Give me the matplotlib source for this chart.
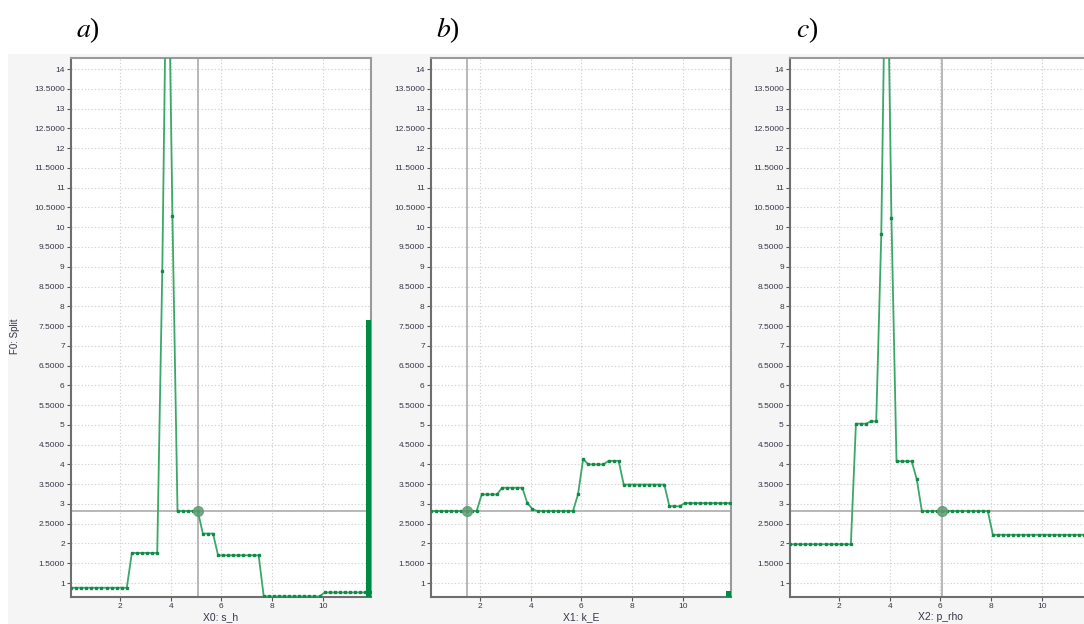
import matplotlib
matplotlib.use("Agg")
import matplotlib.pyplot as plt
from matplotlib.patches import Rectangle

# ---------------- data ----------------
x_grid = [0.07, 0.27, 0.47, 0.67, 0.87, 1.07, 1.27, 1.47, 1.67, 1.87,
          2.07, 2.27, 2.47, 2.67, 2.87, 3.07, 3.27, 3.47, 3.67, 3.87,
          4.07, 4.27, 4.47, 4.67, 4.87, 5.07, 5.27, 5.47, 5.67, 5.87,
          6.07, 6.27, 6.47, 6.67, 6.87, 7.07, 7.27, 7.47, 7.67, 7.87,
          8.07, 8.27, 8.47, 8.67, 8.87, 9.07, 9.27, 9.47, 9.67, 9.87,
          10.07, 10.27, 10.47, 10.67, 10.87, 11.07, 11.27, 11.47, 11.67, 11.87]

f_a = [0.88, 0.88, 0.88, 0.88, 0.88, 0.88, 0.88, 0.88, 0.88, 0.88,
       0.88, 0.88, 1.76, 1.76, 1.76, 1.76, 1.76, 1.76, 8.90, 19.0,
       10.29, 2.82, 2.82, 2.82, 2.82, 2.82, 2.25, 2.25, 2.25, 1.70,
       1.70, 1.70, 1.70, 1.70, 1.70, 1.70, 1.70, 1.70, 0.66, 0.66,
       0.66, 0.66, 0.66, 0.66, 0.66, 0.66, 0.66, 0.66, 0.66, 0.66,
       0.76, 0.76, 0.76, 0.76, 0.76, 0.76, 0.76, 0.76, 0.76, 0.76]

f_b = [2.82, 2.82, 2.82, 2.82, 2.82, 2.82, 2.82, 2.82, 2.82, 2.82,
       3.24, 3.24, 3.24, 3.24, 3.41, 3.41, 3.41, 3.41, 3.41, 3.02,
       2.87, 2.82, 2.82, 2.82, 2.82, 2.82, 2.82, 2.82, 2.82, 3.25,
       4.14, 4.00, 4.00, 4.00, 4.00, 4.09, 4.09, 4.09, 3.49, 3.49,
       3.49, 3.49, 3.49, 3.49, 3.49, 3.49, 3.49, 2.94, 2.94, 2.94,
       3.02, 3.02, 3.02, 3.02, 3.02, 3.02, 3.02, 3.02, 3.02, 3.02]

f_c = [1.98, 1.98, 1.98, 1.98, 1.98, 1.98, 1.98, 1.98, 1.98, 1.98,
       1.98, 1.98, 1.98, 5.03, 5.03, 5.03, 5.09, 5.09, 9.84, 19.0,
       10.24, 4.08, 4.08, 4.08, 4.08, 3.62, 2.82, 2.82, 2.82, 2.82,
       2.82, 2.82, 2.82, 2.82, 2.82, 2.82, 2.82, 2.82, 2.82, 2.82,
       2.22, 2.22, 2.22, 2.22, 2.22, 2.22, 2.22, 2.22, 2.22, 2.22,
       2.22, 2.22, 2.22, 2.22, 2.22, 2.22, 2.22, 2.22, 2.22, 2.22]

series = [f_a, f_b, f_c]
panel_titles = ["a", "b", "c"]
x_labels = ["X0: s_h", "X1: k_E", "X2: p_rho"]
y_label = "F0: Split"
current_x = [5.07, 1.47, 6.07]
current_f = 2.82
bar_x = 11.81
bar_heights = [7.65, 0.80, None]

y_ticks = [1 + 0.5 * k for k in range(27)]
y_tick_labels = [str(int(v)) if v == int(v) else f"{v:.4f}" for v in y_ticks]
x_ticks = [2, 4, 6, 8, 10]
x_tick_labels = ["2", "4", "6", "8", "10"]

# ---------------- figure ----------------
W, H = 1084, 624
fig = plt.figure(figsize=(W / 100, H / 100), dpi=100)
fig.patch.set_facecolor("white")
plt.rcParams["mathtext.fontset"] = "stix"

fig.add_artist(Rectangle((8 / W, 0), 1 - 8 / W, (H - 54) / H,
                         transform=fig.transFigure, facecolor="#f5f5f5",
                         edgecolor="none", zorder=-10))

ax_left_px = [71, 431, 790]
ax_w_px = 300
ax_top_px, ax_bot_px = 58, 597
ylim = (0.646, 14.28)
xlim = (0.07, 11.9)

line_col = "#3aa86a"
mark_col = "#138a48"
tick_font = dict(family="Liberation Sans", size=6)

for i in range(3):
    ax = fig.add_axes([ax_left_px[i] / W, (H - ax_bot_px) / H,
                       ax_w_px / W, (ax_bot_px - ax_top_px) / H])
    ax.set_facecolor("white")
    ax.set_xlim(*xlim)
    ax.set_ylim(*ylim)
    ax.set_yticks(y_ticks)
    ax.set_yticklabels(y_tick_labels, fontdict=tick_font)
    ax.set_xticks(x_ticks)
    ax.set_xticklabels(x_tick_labels, fontdict=tick_font)
    ax.tick_params(direction="out", length=3, width=0.8, color="#555555",
                   labelcolor="#3a3448", pad=1.5)
    ax.grid(True, linestyle=(0, (1.2, 1.8)), color="#d2d2d2", lw=0.8, zorder=0)
    ax.set_axisbelow(True)
    for s in ["left", "bottom"]:
        ax.spines[s].set_color("#6e6e6e")
        ax.spines[s].set_linewidth(1.5)
    for s in ["top", "right"]:
        ax.spines[s].set_color("#9a9a9a")
        ax.spines[s].set_linewidth(1.5)

    ax.axvline(current_x[i], color="#b8b8b8", lw=1.4, zorder=2)
    ax.axhline(current_f, color="#b8b8b8", lw=1.4, zorder=2)

    ax.plot(x_grid, series[i], color=line_col, lw=1.3, marker="s", ms=2.0,
            mfc=mark_col, mec=mark_col, zorder=3)
    ax.plot([current_x[i]], [current_f], "o", ms=7, color="#5f9c73",
            alpha=0.85, zorder=4)

    if bar_heights[i] is not None:
        ax.bar([bar_x], [bar_heights[i] - ylim[0]], bottom=ylim[0], width=0.18,
               color="#008a45", zorder=3)

    ax.set_xlabel(x_labels[i], fontsize=7.5, family="Liberation Sans",
                  color="#3a3448", labelpad=1.5)

    cx = (ax_left_px[i] + 17) / W
    fig.text(cx, 1 - 30 / H, "$" + panel_titles[i] + "$)", fontsize=20,
             family="Liberation Serif", ha="center", va="center")

fig.text(15.5 / W, 1 - 336 / H, y_label, rotation=90, fontsize=7,
         family="Liberation Sans", color="#3a3448", ha="center", va="center")

fig.savefig("out.png", dpi=100)
